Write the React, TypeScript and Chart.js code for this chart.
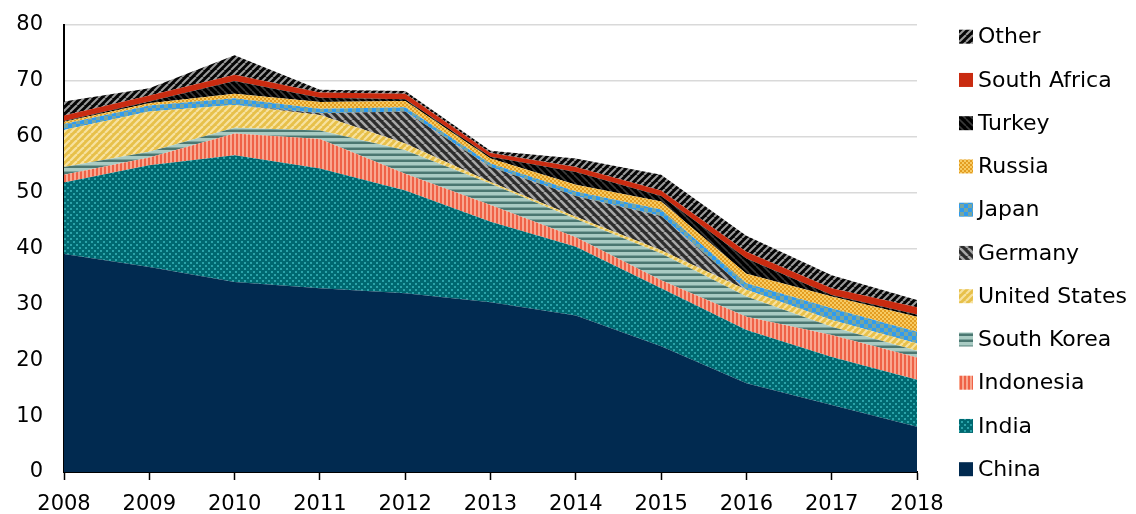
import React, { useEffect, useRef } from 'react';
import { Chart, registerables } from 'chart.js';

Chart.register(...registerables);

const years = ['2008', '2009', '2010', '2011', '2012', '2013', '2014', '2015', '2016', '2017', '2018'];
const yTicks = [0, 10, 20, 30, 40, 50, 60, 70, 80];

const china = [39.0, 36.7, 34.0, 32.9, 32.0, 30.4, 28.0, 22.5, 15.9, 12.0, 8.1];
const india = [12.8, 18.2, 22.7, 21.4, 18.4, 14.4, 12.3, 10.4, 9.5, 8.6, 8.4];
const indonesia = [1.4, 1.4, 3.9, 5.3, 3.0, 3.0, 1.7, 1.4, 2.4, 3.9, 4.0];
const southKorea = [1.4, 1.0, 1.0, 1.5, 4.2, 3.8, 3.3, 4.8, 3.6, 1.5, 1.2];
const unitedStates = [6.6, 7.2, 4.1, 2.8, 1.2, 0.3, 0.4, 0.6, 1.2, 1.2, 1.3];
const germany = [0, 0, 0, 0.3, 5.7, 2.7, 3.7, 6.1, 0, 0, 0];
const japan = [1.1, 1.1, 1.2, 0.8, 0.8, 0.6, 0.8, 1.2, 1.2, 2.1, 2.1];
const russia = [0.4, 0.4, 0.8, 1.2, 1.1, 0.9, 1.2, 1.4, 1.7, 2.1, 2.7];
const turkey = [0.1, 0.3, 2.3, 0.8, 0.3, 0.3, 2.3, 1.0, 2.7, 0.3, 0.4];
const southAfrica = [1.0, 1.1, 1.1, 0.9, 1.0, 0.7, 0.9, 1.0, 1.2, 1.2, 1.3];
const other = [2.5, 1.3, 3.5, 0.5, 0.5, 0.4, 1.5, 2.8, 2.9, 2.3, 1.3];

const seriesNames = ['China', 'India', 'Indonesia', 'South Korea', 'United States', 'Germany', 'Japan', 'Russia', 'Turkey', 'South Africa', 'Other'];
const seriesValues = [china, india, indonesia, southKorea, unitedStates, germany, japan, russia, turkey, southAfrica, other];

const FONT = '"DejaVu Sans", Verdana, sans-serif';

function tile(w: number, h: number, draw: (g: CanvasRenderingContext2D) => void) {
  const c = document.createElement('canvas');
  c.width = w;
  c.height = h;
  const g = c.getContext('2d') as CanvasRenderingContext2D;
  draw(g);
  return c;
}

function diagTile(bg: string, fg: string, n: number, lw: number, dir: string) {
  return tile(n, n, (g) => {
    g.fillStyle = bg;
    g.fillRect(0, 0, n, n);
    g.strokeStyle = fg;
    g.lineWidth = lw;
    for (let k = -1; k <= 1; k++) {
      g.beginPath();
      if (dir === '/') {
        g.moveTo(k * n, n);
        g.lineTo(k * n + n, 0);
      } else {
        g.moveTo(k * n, 0);
        g.lineTo(k * n + n, n);
      }
      g.stroke();
    }
  });
}

function buildFills(ctx: CanvasRenderingContext2D): (string | CanvasPattern)[] {
  const pat = (c: HTMLCanvasElement) => ctx.createPattern(c, 'repeat') as CanvasPattern;
  const indiaT = tile(6, 6, (g) => {
    g.fillStyle = '#006870';
    g.fillRect(0, 0, 6, 6);
    g.fillStyle = '#2AA3A9';
    g.fillRect(1, 1, 2, 2);
    g.fillRect(4, 4, 2, 2);
  });
  const indoT = tile(4, 1, (g) => {
    g.fillStyle = '#EF6247';
    g.fillRect(0, 0, 4, 1);
    g.fillStyle = '#F9A78F';
    g.fillRect(2, 0, 2, 1);
  });
  const skT = tile(1, 6, (g) => {
    g.fillStyle = '#A9CBC3';
    g.fillRect(0, 0, 1, 6);
    g.fillStyle = '#7BA39C';
    g.fillRect(0, 3, 1, 1);
    g.fillStyle = '#4B7771';
    g.fillRect(0, 4, 1, 2);
  });
  const usT = diagTile('#E7C04A', '#F7E2A0', 7, 2.2, '/');
  const gerT = diagTile('#2C2C2C', '#A8A8A8', 8, 2.6, '\\');
  const japT = tile(8, 8, (g) => {
    g.fillStyle = '#78A6A0';
    g.fillRect(0, 0, 8, 8);
    g.fillStyle = '#2F9BEF';
    g.fillRect(0, 0, 4, 4);
    g.fillRect(4, 4, 4, 4);
  });
  const rusT = tile(4, 4, (g) => {
    g.fillStyle = '#E39D22';
    g.fillRect(0, 0, 4, 4);
    g.fillStyle = '#F7CB63';
    g.fillRect(0, 0, 2, 2);
    g.fillRect(2, 2, 2, 2);
  });
  const turT = diagTile('#000000', '#3A3A3A', 7, 1.6, '\\');
  const othT = diagTile('#050505', '#9C9C9C', 7, 2.0, '/');
  return [
    '#012A50',
    pat(indiaT),
    pat(indoT),
    pat(skT),
    pat(usT),
    pat(gerT),
    pat(japT),
    pat(rusT),
    pat(turT),
    '#C92B10',
    pat(othT),
  ];
}

const legendPlugin = {
  id: 'sideLegend',
  afterDraw(chart: any) {
    const ctx = chart.ctx as CanvasRenderingContext2D;
    const area = chart.chartArea;
    const ds = chart.data.datasets;
    ctx.save();
    ctx.font = `22px ${FONT}`;
    ctx.textBaseline = 'middle';
    const x = area.right + 42;
    const n = ds.length;
    for (let i = 0; i < n; i++) {
      const d = ds[n - 1 - i];
      const y = area.top + 11.7 + i * 43.25;
      ctx.fillStyle = d.backgroundColor;
      ctx.fillRect(x, y - 7, 14, 14);
      ctx.fillStyle = '#000';
      ctx.fillText(d.label, x + 19, y + 1);
    }
    ctx.restore();
  },
};

export default function App() {
  const ref = useRef<HTMLCanvasElement>(null);
  useEffect(() => {
    const canvas = ref.current as HTMLCanvasElement;
    const ctx = canvas.getContext('2d') as CanvasRenderingContext2D;
    const fills = buildFills(ctx);
    const chart = new Chart(canvas, {
      type: 'line',
      data: {
        labels: years,
        datasets: seriesNames.map((name, i) => ({
          label: name,
          data: seriesValues[i],
          backgroundColor: fills[i] as any,
          borderColor: 'rgba(0,0,0,0)',
          borderWidth: 0,
          pointRadius: 0,
          fill: i === 0 ? 'origin' : '-1',
          tension: 0,
        })),
      },
      options: {
        animation: false,
        responsive: false,
        devicePixelRatio: 1,
        layout: { padding: { left: 17, right: 219, top: 25, bottom: 0 } },
        plugins: { legend: { display: false }, tooltip: { enabled: false } },
        scales: {
          x: {
            offset: false,
            z: 1,
            afterFit: (axis: any) => {
              axis.height = 42;
            },
            grid: { drawOnChartArea: false, drawTicks: true, tickLength: 8, tickColor: '#000', tickWidth: 1.5 },
            border: { color: '#000', width: 2 },
            ticks: { color: '#000', font: { family: FONT, size: 21 }, padding: 12, maxRotation: 0, autoSkip: false },
          },
          y: {
            stacked: true,
            min: yTicks[0],
            max: yTicks[yTicks.length - 1],
            afterBuildTicks: (axis: any) => {
              axis.ticks = yTicks.map((v) => ({ value: v }));
            },
            afterFit: (axis: any) => {
              axis.width = 47;
              axis.paddingTop = 0;
              axis.paddingBottom = 0;
            },
            grid: { color: '#D9D9D9', lineWidth: 1.5, drawTicks: false },
            border: { color: '#000', width: 2 },
            ticks: { color: '#000', font: { family: FONT, size: 21 }, padding: 21 },
          },
        },
      },
      plugins: [legendPlugin],
    });
    return () => chart.destroy();
  }, []);
  return (
    <div style={{ position: 'fixed', left: 0, top: 0, width: 1136, height: 514, background: '#fff' }}>
      <canvas ref={ref} width={1136} height={514} style={{ display: 'block' }} />
    </div>
  );
}
